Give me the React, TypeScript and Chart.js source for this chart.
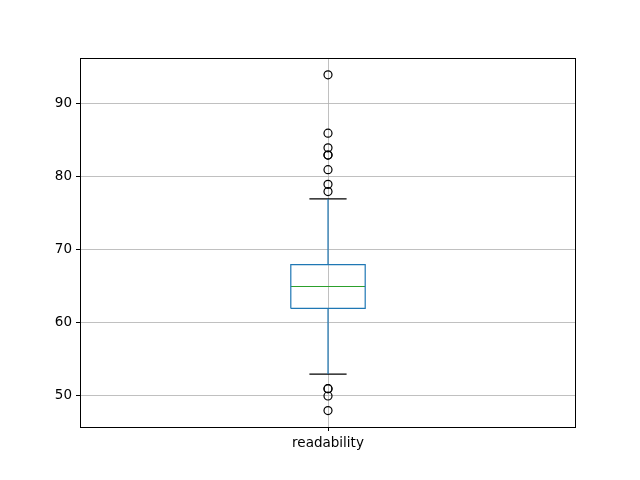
import React, { useEffect, useRef } from "react";
import { Chart, registerables } from "chart.js";

Chart.register(...registerables);

const CATEGORY = "readability";
const Q1 = 62;
const MEDIAN = 65;
const Q3 = 68;
const WHISKER_LOW = 53;
const WHISKER_HIGH = 77;
const OUTLIERS = [94, 86, 84, 83, 83, 81, 79, 78, 51, 51, 50, 48];
const Y_TICKS = [50, 60, 70, 80, 90];

const POS = 1;
const BOX_HALF = 0.075;
const CAP_HALF = 0.0375;

const frame = {
  id: "frame",
  afterDraw(chart: any) {
    const { ctx, chartArea: a } = chart;
    ctx.save();
    ctx.strokeStyle = "#000";
    ctx.lineWidth = 1;
    ctx.strokeRect(Math.round(a.left) + 0.5, Math.round(a.top) + 0.5, Math.round(a.right - a.left) - 1, Math.round(a.bottom - a.top));
    ctx.restore();
  },
};

export default function App() {
  const ref = useRef<HTMLCanvasElement>(null);
  useEffect(() => {
    document.body.style.margin = "0";
    const font = { family: "DejaVu Sans", size: 13.5 };
    const line = (pts: [number, number][], color: string) => ({
      type: "line" as const,
      data: pts.map(([x, y]) => ({ x, y })),
      borderColor: color,
      borderWidth: 1.2,
      pointRadius: 0,
      fill: false,
      tension: 0,
    });
    const chart = new Chart(ref.current!, {
      type: "scatter",
      data: {
        datasets: [
          line([[POS, Q1], [POS, WHISKER_LOW]], "#1f77b4"),
          line([[POS, Q3], [POS, WHISKER_HIGH]], "#1f77b4"),
          line([[POS - CAP_HALF, WHISKER_LOW], [POS + CAP_HALF, WHISKER_LOW]], "#000"),
          line([[POS - CAP_HALF, WHISKER_HIGH], [POS + CAP_HALF, WHISKER_HIGH]], "#000"),
          line(
            [
              [POS - BOX_HALF, Q1],
              [POS + BOX_HALF, Q1],
              [POS + BOX_HALF, Q3],
              [POS - BOX_HALF, Q3],
              [POS - BOX_HALF, Q1],
            ],
            "#1f77b4"
          ),
          line([[POS - BOX_HALF, MEDIAN], [POS + BOX_HALF, MEDIAN]], "#2ca02c"),
          {
            type: "scatter" as const,
            data: OUTLIERS.map((y) => ({ x: POS, y })),
            pointRadius: 4,
            pointBorderColor: "#000",
            pointBackgroundColor: "rgba(0,0,0,0)",
            pointBorderWidth: 1.2,
          },
        ] as any,
      },
      options: {
        responsive: false,
        animation: false,
        layout: { padding: { left: 0, top: 58, right: 64, bottom: 0 } },
        plugins: { legend: { display: false }, tooltip: { enabled: false } },
        scales: {
          x: {
            type: "linear",
            min: 0.5,
            max: 1.5,
            afterBuildTicks: (s: any) => {
              s.ticks = [{ value: POS }];
            },
            afterFit: (s: any) => {
              s.height = 53;
            },
            ticks: { callback: () => CATEGORY, color: "#000", font, padding: 4, maxRotation: 0 },
            grid: { color: "#b0b0b0", lineWidth: 0.8, tickLength: 4, tickColor: "#000", tickWidth: 1 },
            border: { display: false },
          },
          y: {
            type: "linear",
            min: 45.75,
            max: 96.3,
            afterBuildTicks: (s: any) => {
              s.ticks = Y_TICKS.map((v) => ({ value: v }));
            },
            afterFit: (s: any) => {
              s.width = 80;
            },
            ticks: { color: "#000", font, padding: 4 },
            grid: { color: "#b0b0b0", lineWidth: 0.8, tickLength: 4, tickColor: "#000", tickWidth: 1 },
            border: { display: false },
          },
        },
      },
      plugins: [frame],
    });
    return () => chart.destroy();
  }, []);
  return <canvas ref={ref} width={640} height={480} style={{ display: "block" }} />;
}
